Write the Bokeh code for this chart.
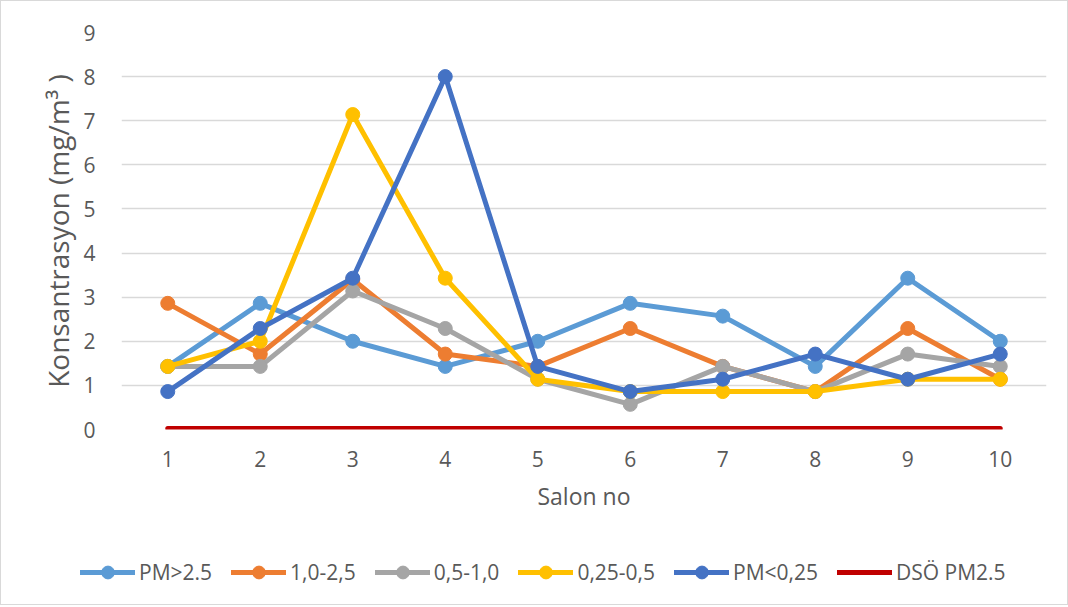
from bokeh.plotting import figure
from bokeh.layouts import column
from bokeh.models import Legend, LegendItem, ColumnDataSource, Range1d, FixedTicker
from bokeh.embed import file_html
from bokeh.resources import INLINE

salon = [1, 2, 3, 4, 5, 6, 7, 8, 9, 10]
pm_gt_25 = [1.43, 2.86, 2.00, 1.43, 2.00, 2.86, 2.57, 1.43, 3.43, 2.00]
pm_10_25 = [2.86, 1.71, 3.40, 1.71, 1.43, 2.29, 1.43, 0.86, 2.29, 1.14]
pm_05_10 = [1.43, 1.43, 3.14, 2.29, 1.14, 0.57, 1.43, 0.86, 1.71, 1.43]
pm_025_05 = [1.43, 2.00, 7.14, 3.43, 1.14, 0.86, 0.86, 0.86, 1.14, 1.14]
pm_lt_025 = [0.86, 2.29, 3.43, 8.00, 1.43, 0.86, 1.14, 1.71, 1.14, 1.71]
dso_pm25 = [0.025] * 10

series = [
    ("PM>2.5", pm_gt_25, "#5B9BD5", True),
    ("1,0-2,5", pm_10_25, "#ED7D31", True),
    ("0,5-1,0", pm_05_10, "#A5A5A5", True),
    ("0,25-0,5", pm_025_05, "#FFC000", True),
    ("PM<0,25", pm_lt_025, "#4472C4", True),
    ("DSÖ PM2.5", dso_pm25, "#C00000", False),
]

FONT = "Open Sans"
TXT = "#595959"

p = figure(frame_width=925, frame_height=397, min_border_left=120, min_border_right=21,
           min_border_top=31, min_border_bottom=90,
           x_range=Range1d(0.5, 10.5), y_range=Range1d(0, 9),
           output_backend="svg", toolbar_location=None)
p.outline_line_color = None

p.xgrid.grid_line_color = None
p.ygrid.grid_line_color = "#D9D9D9"
p.ygrid.grid_line_width = 1.5

p.xaxis.ticker = FixedTicker(ticks=salon)
p.yaxis.ticker = FixedTicker(ticks=list(range(0, 10)))
for ax in (p.xaxis[0], p.yaxis[0]):
    ax.axis_line_color = None
    ax.major_tick_line_color = None
    ax.minor_tick_line_color = None
    ax.major_label_text_font = FONT
    ax.major_label_text_font_size = "21px"
    ax.major_label_text_color = TXT
    ax.axis_label_text_font = FONT
    ax.axis_label_text_color = TXT
    ax.axis_label_text_font_style = "normal"

p.xaxis.axis_label = "Salon no"
p.xaxis.axis_label_text_font_size = "23px"
p.xaxis.major_label_standoff = 15
p.xaxis.axis_label_standoff = 10
p.yaxis.axis_label = "Konsantrasyon (mg/m³ )"
p.yaxis.axis_label_text_font_size = "28px"
p.yaxis.major_label_standoff = 20
p.yaxis.axis_label_standoff = 3

# legend strip as a separate small figure below the chart (its ranges keep the
# shared data out of view, so only the legend shows)
lg = figure(frame_width=1066, frame_height=85, min_border=0,
            x_range=Range1d(-100, -99), y_range=Range1d(-100, -99),
            x_axis_type=None, y_axis_type=None,
            output_backend="svg", toolbar_location=None)
lg.outline_line_color = None
lg.xgrid.grid_line_color = None
lg.ygrid.grid_line_color = None

items = []
for name, vals, color, marker in series:
    src = ColumnDataSource(dict(x=salon, y=vals))
    p.line("x", "y", source=src, line_color=color, line_width=5, line_cap="round")
    if marker:
        p.scatter("x", "y", source=src, size=14, fill_color=color, line_color=color)
    rs = [lg.line("x", "y", source=src, line_color=color, line_width=5, line_cap="round")]
    if marker:
        rs.append(lg.scatter("x", "y", source=src, size=14, fill_color=color, line_color=color))
    items.append(LegendItem(label=name, renderers=rs))

legend = Legend(items=items, orientation="horizontal", location=(79, 16),
                glyph_width=55, glyph_height=32, label_standoff=4, spacing=19,
                label_text_font=FONT, label_text_font_size="21px", label_text_color=TXT,
                background_fill_alpha=0, border_line_color=None, padding=0, margin=0)
lg.add_layout(legend, "center")

layout = column(p, lg, spacing=0)
layout.styles = {"border": "1px solid #D9D9D9"}

open("out.html", "w").write(file_html(layout, INLINE))
